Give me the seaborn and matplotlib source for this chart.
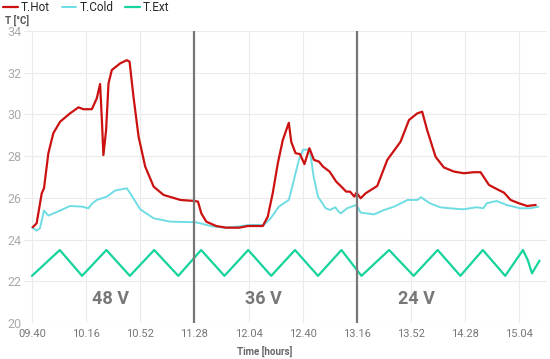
import pandas as pd
import matplotlib.pyplot as plt
import seaborn as sns

# minutes after 09:40
hot_t = [0.5, 3.1, 6.5, 8, 10.9, 14.2, 18.7, 25.3, 30.9, 34.2, 39.8, 43.1, 45.3, 46.5, 47.5,
         49.3, 50.9, 53.1, 58.7, 63.1, 64.9, 67.5, 70.9, 75.3, 80.9, 87.5, 98.7, 108.2,
         110.4, 112.6, 115.9, 122.5, 129.2, 138, 143.5, 153.5, 156.8, 160.1, 163.5, 166.8,
         170.8, 172.4, 175.3, 178.2, 181.2, 184.5, 187.5, 190.8, 193.5, 197.9, 202.3, 206.8,
         208.9, 211.5, 214.4, 215.8, 218.6, 221.9, 229.6, 236.3, 245.1, 250.7, 256.2, 259.5,
         262.8, 268.4, 273.9, 280.6, 287.2, 293.9, 298.3, 303.9, 309.4, 313.9, 318.3, 323.8,
         329.3, 335]
hot = [24.59, 24.78, 26.22, 26.46, 28.14, 29.1, 29.65, 30.05, 30.34, 30.25, 30.25, 30.77, 31.46,
       29.73, 28.05, 29.25, 31.49, 32.13, 32.45, 32.6, 32.53, 30.85, 28.93, 27.5, 26.54, 26.14,
       25.9, 25.85, 25.82, 25.26, 24.86, 24.65, 24.57, 24.57, 24.65, 24.65, 25.1, 26.22, 27.66,
       28.77, 29.6, 28.69, 28.14, 28.1, 27.62, 28.38, 27.82, 27.74, 27.5, 27.26, 26.78, 26.46,
       26.3, 26.3, 26.06, 26.25, 25.98, 26.22, 26.57, 27.82, 28.69, 29.73, 30.05, 30.13, 29.25,
       27.97, 27.46, 27.26, 27.18, 27.23, 27.23, 26.62, 26.41, 26.25, 25.9, 25.74, 25.61, 25.66]

cold_t = [0, 3.1, 5.3, 8, 10.9, 18.7, 25.3, 33.1, 37.5, 39.8, 43.1, 49.8, 55.3, 63.1, 65.3,
          72, 80.9, 92, 108.7, 112, 118.7, 127.6, 136.5, 144.3, 154.2, 158.7, 164.2, 170.8,
          174.2, 177.5, 180.3, 184.7, 187.3, 190.2, 195.3, 198.3, 201.7, 203.9, 205.4, 209.6,
          215.7, 218.6, 227.5, 234.2, 240.9, 249.8, 256.4, 258.6, 264.6, 271.3, 277.9, 286.8,
          295.7, 300.2, 302.4, 309, 315.7, 324.6, 331.3, 336.8]
cold = [24.59, 24.43, 24.54, 25.39, 25.15, 25.39, 25.61, 25.58, 25.5, 25.71, 25.9, 26.06, 26.35,
        26.46, 26.22, 25.45, 25.02, 24.86, 24.83, 24.78, 24.65, 24.57, 24.62, 24.7, 24.7, 25.02,
        25.58, 25.9, 26.86, 27.82, 28.3, 28.33, 27.02, 26.06, 25.5, 25.42, 25.55, 25.34, 25.26,
        25.5, 25.66, 25.29, 25.21, 25.42, 25.58, 25.9, 25.9, 26.03, 25.74, 25.55, 25.5, 25.45,
        25.55, 25.5, 25.74, 25.85, 25.66, 25.5, 25.5, 25.58]

ext_t = [0, 18.5, 33.3, 49.5, 65.1, 81.3, 97.3, 112.5, 128, 143.8, 159.1, 174.9, 190.2, 205.8,
         219.1, 237.5, 253.8, 269.8, 284.9, 299.8, 314.7, 326.5, 329.8, 332.5, 337.5]
ext = [22.26, 23.5, 22.26, 23.5, 22.26, 23.5, 22.26, 23.5, 22.26, 23.5, 22.26, 23.5, 22.26, 23.5,
       22.26, 23.5, 22.26, 23.5, 22.26, 23.5, 22.26, 23.5, 23.0, 22.38, 22.99]

tick_labels = ['09.40', '10.16', '10.52', '11.28', '12.04', '12.40', '13.16', '13.52', '14.28', '15.04']
tick_pos = [36 * i for i in range(len(tick_labels))]
phase_bounds = [108, 216]
phase_labels = ['48 V', '36 V', '24 V']
phase_pos = [52, 154, 256]

sns.set_style('white')
plt.rcParams['font.family'] = ['Roboto', 'DejaVu Sans']

fig = plt.figure(figsize=(5.5, 3.59), dpi=100)
ax = fig.add_axes([24 / 550, 1 - 323 / 359, 523 / 550, 292 / 359])

df_hot = pd.DataFrame({'t': hot_t, 'v': hot})
df_cold = pd.DataFrame({'t': cold_t, 'v': cold})
df_ext = pd.DataFrame({'t': ext_t, 'v': ext})

sns.lineplot(data=df_hot, x='t', y='v', ax=ax, color='#cc1111', lw=1.6, label='T.Hot', zorder=4)
sns.lineplot(data=df_cold, x='t', y='v', ax=ax, color='#6fdde3', lw=1.4, label='T.Cold', zorder=3)
sns.lineplot(data=df_ext, x='t', y='v', ax=ax, color='#14d39c', lw=1.6, label='T.Ext', zorder=3)

for b in phase_bounds:
    ax.axvline(b, color='#777777', lw=1.6, zorder=5)
for p, lab in zip(phase_pos, phase_labels):
    ax.text(p, 21.15, lab, ha='center', va='center', fontsize=13, fontweight='bold', color='#777777')

ax.set_xlim(-5.3, 342.5)
ax.set_ylim(20, 34)
ax.set_yticks(range(20, 35, 2))
ax.set_xticks(tick_pos)
ax.set_xticklabels(tick_labels)
ax.grid(True, color='#ebebeb', lw=0.8)
ax.tick_params(axis='y', labelsize=9, labelcolor='#aaaaaa', length=0, pad=2)
ax.tick_params(axis='x', labelsize=8, labelcolor='#777777', length=0, pad=4)
for s in ax.spines.values():
    s.set_visible(False)
ax.set_xlabel('')
ax.set_ylabel('')
ax.legend_.remove()

fig.text(265 / 550, 1 - 351 / 359, 'Time [hours]', ha='center', va='center', fontsize=7,
         fontweight='bold', color='#666666')
fig.text(5 / 550, 1 - 20 / 359, 'T [°C]', ha='left', va='center', fontsize=7,
         fontweight='bold', color='#555555')
handles, labels = ax.get_legend_handles_labels()
fig.legend(handles, labels, loc='upper left', bbox_to_anchor=(0.004, 1.0), ncol=3, frameon=False,
           fontsize=8.5, handlelength=1.2, handletextpad=0.3, columnspacing=1.0,
           borderaxespad=0, borderpad=0.1)

fig.savefig('out.png', dpi=100)
